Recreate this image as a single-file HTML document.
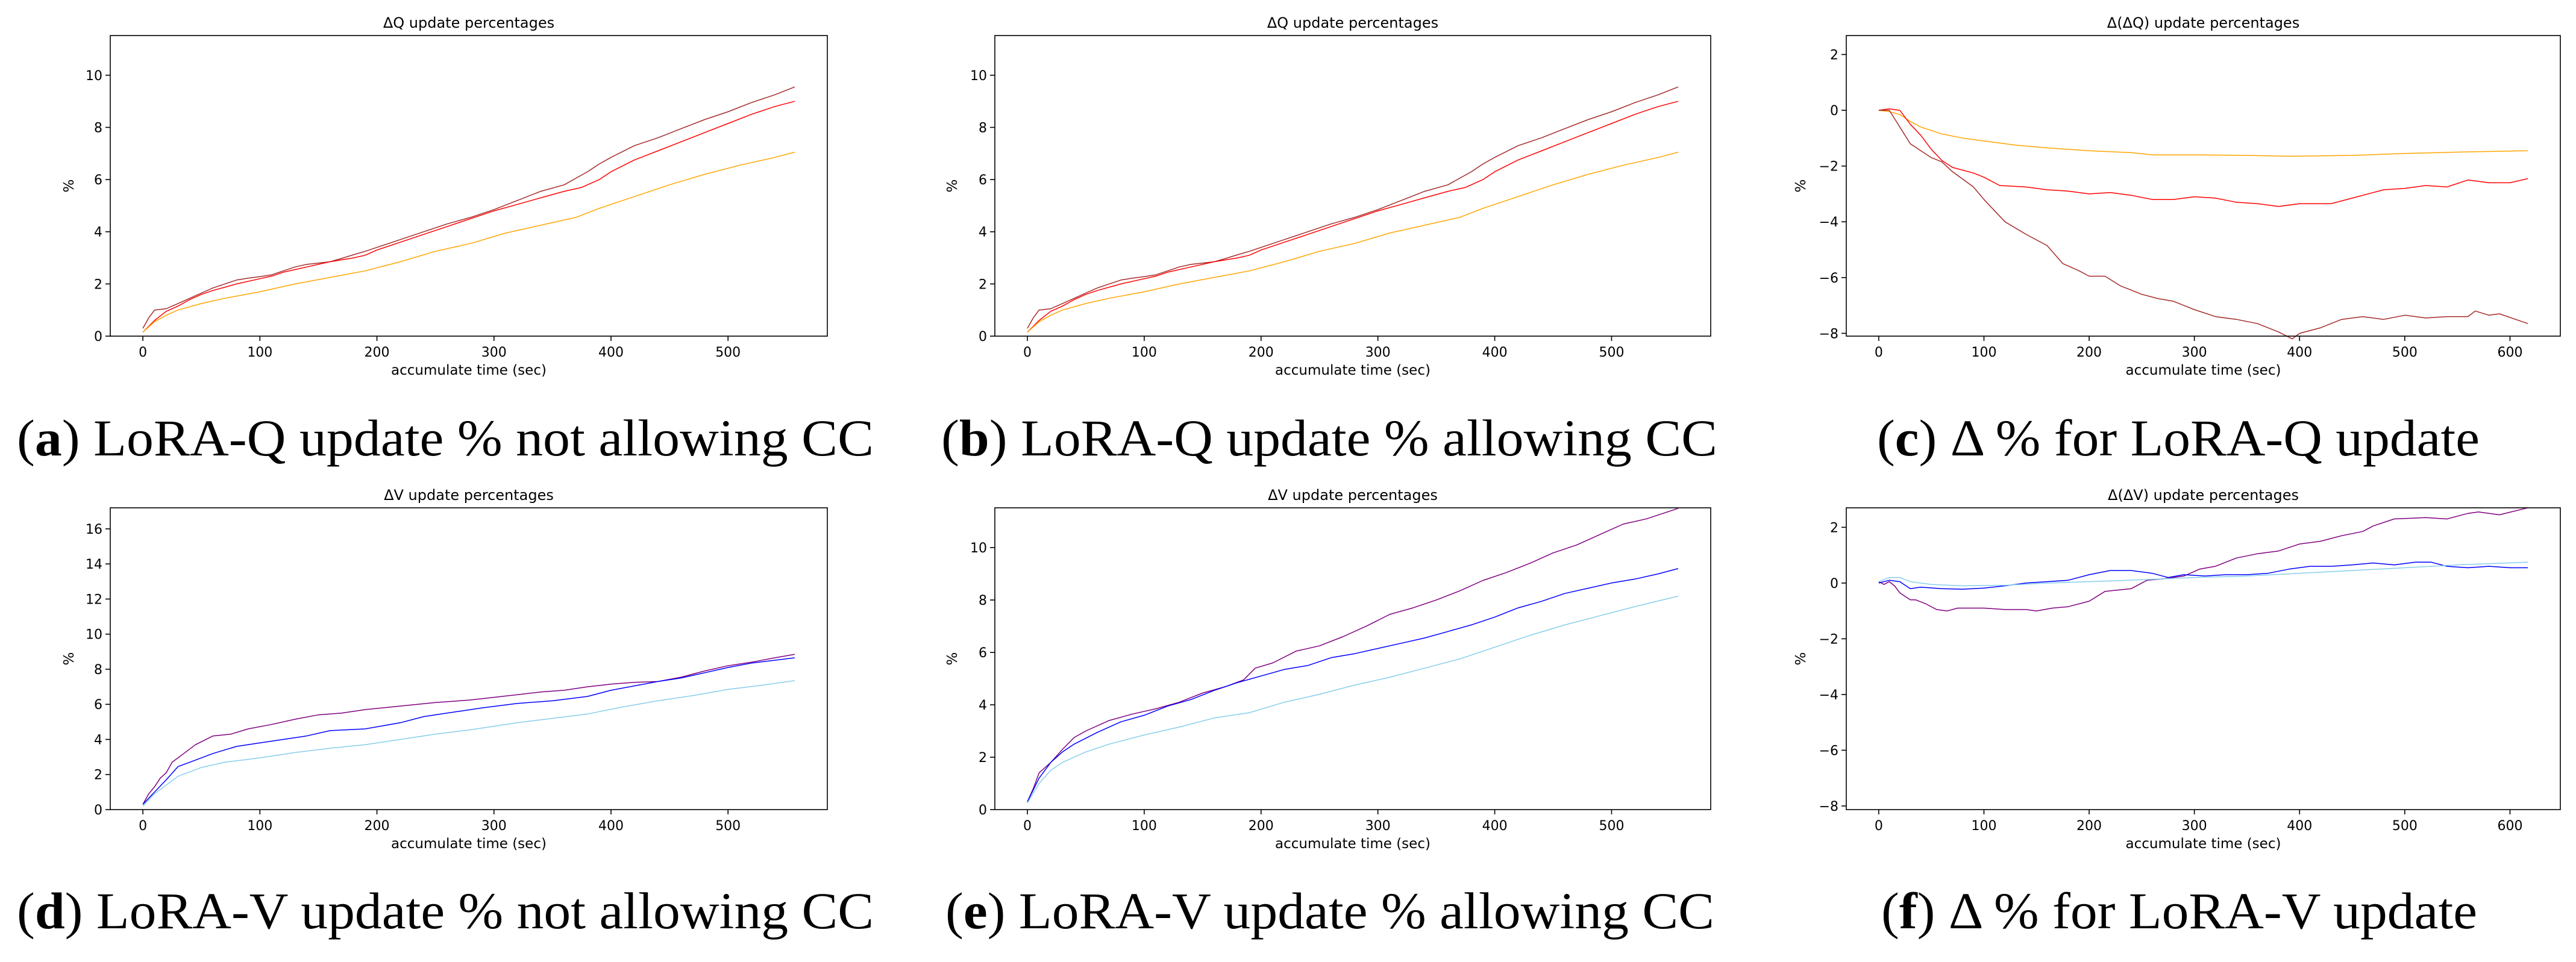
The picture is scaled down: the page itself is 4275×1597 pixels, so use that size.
<!DOCTYPE html>
<html><head><meta charset="utf-8"><style>
html,body{margin:0;padding:0;background:#fff;}
svg{display:block;}
text{font-family:"DejaVu Sans","Liberation Sans",sans-serif;fill:#000;}
.cap{font-family:"Liberation Serif",serif;}
</style></head><body>
<svg id="fig" width="4275" height="1597" viewBox="0 0 4275 1597" xmlns="http://www.w3.org/2000/svg"></svg>
<script>
// ---- data ----
const qBrownX=[0,5,10,20,30,40,50,60,70,80,90,100,110,120,130,140,150,160,170,180,190,200,220,240,260,280,300,320,340,360,370,380,390,400,420,440,460,480,500,520,540,557];
const qBrownY=[0.3,0.7,1.0,1.05,1.25,1.45,1.65,1.85,2.0,2.15,2.22,2.28,2.35,2.5,2.65,2.75,2.8,2.85,2.98,3.12,3.25,3.4,3.7,4.0,4.3,4.55,4.85,5.2,5.55,5.8,6.05,6.3,6.6,6.85,7.3,7.6,7.95,8.3,8.6,8.95,9.25,9.55];
const qRedX=[0,10,20,30,40,50,60,80,100,110,120,140,160,180,190,200,220,240,260,280,300,320,340,360,375,390,400,420,440,460,480,500,520,540,557];
const qRedY=[0.15,0.6,0.95,1.15,1.4,1.6,1.75,2.0,2.2,2.3,2.45,2.65,2.85,3.0,3.1,3.3,3.6,3.9,4.2,4.5,4.8,5.05,5.3,5.55,5.7,6.0,6.3,6.75,7.1,7.45,7.8,8.15,8.5,8.8,9.0];
const qOrangeX=[0,10,20,30,50,70,100,130,160,190,220,250,280,310,340,370,390,420,450,480,510,540,557];
const qOrangeY=[0.15,0.55,0.8,1.0,1.25,1.45,1.7,2.0,2.25,2.5,2.85,3.25,3.55,3.95,4.25,4.55,4.9,5.35,5.8,6.2,6.55,6.85,7.05];

const dqOrangeX=[0,10,20,30,40,60,80,100,130,160,200,240,260,300,350,390,450,500,550,617];
const dqOrangeY=[0,-0.05,-0.15,-0.4,-0.6,-0.85,-1.0,-1.1,-1.25,-1.35,-1.45,-1.52,-1.6,-1.6,-1.62,-1.65,-1.62,-1.55,-1.5,-1.45];
const dqRedX=[0,10,20,30,40,50,60,70,90,100,115,140,160,180,200,220,240,260,280,300,320,340,360,380,400,430,450,480,500,520,540,560,580,600,617];
const dqRedY=[0,0.05,0,-0.5,-0.9,-1.4,-1.8,-2.05,-2.25,-2.4,-2.7,-2.75,-2.85,-2.9,-3.0,-2.95,-3.05,-3.2,-3.2,-3.1,-3.15,-3.3,-3.35,-3.45,-3.35,-3.35,-3.15,-2.85,-2.8,-2.7,-2.75,-2.5,-2.6,-2.6,-2.45];
const dqBrownX=[0,10,15,20,30,40,50,60,70,90,100,110,120,140,160,175,190,200,215,230,250,265,280,300,320,340,360,380,393,400,420,440,460,480,500,520,540,560,567,580,590,617];
const dqBrownY=[0,0,-0.3,-0.6,-1.2,-1.45,-1.7,-1.85,-2.2,-2.75,-3.2,-3.6,-4.0,-4.45,-4.85,-5.5,-5.75,-5.95,-5.95,-6.3,-6.6,-6.75,-6.85,-7.15,-7.4,-7.5,-7.65,-7.95,-8.2,-8.0,-7.8,-7.5,-7.4,-7.5,-7.35,-7.45,-7.4,-7.4,-7.2,-7.35,-7.3,-7.65];

const vPurpleX=[0,5,10,15,20,25,35,45,60,75,90,110,130,150,170,190,220,250,280,300,320,340,360,380,400,420,440,460,480,500,520,540,557];
const vPurpleY=[0.3,0.9,1.3,1.8,2.1,2.7,3.2,3.7,4.2,4.3,4.6,4.85,5.15,5.4,5.5,5.7,5.9,6.1,6.25,6.4,6.55,6.7,6.8,7.0,7.15,7.25,7.3,7.55,7.9,8.2,8.4,8.65,8.85];
const vBlueX=[0,10,20,30,40,60,80,100,120,140,160,190,220,240,260,290,320,350,380,400,420,440,460,480,500,520,557];
const vBlueY=[0.3,1.0,1.7,2.45,2.7,3.2,3.6,3.8,4.0,4.2,4.5,4.6,4.95,5.3,5.5,5.8,6.05,6.2,6.45,6.8,7.05,7.3,7.5,7.8,8.1,8.35,8.65];
const vCyanX=[0,10,20,30,50,70,100,130,160,190,220,250,280,320,350,380,410,440,470,500,530,557];
const vCyanY=[0.2,0.9,1.4,1.9,2.4,2.7,2.95,3.25,3.5,3.7,4.0,4.3,4.55,4.95,5.2,5.45,5.85,6.2,6.5,6.85,7.1,7.35];

const vcPurpleX=[0,5,10,20,30,40,50,70,90,110,130,150,170,185,195,210,230,250,270,290,310,330,350,370,390,410,430,450,470,490,510,530,557];
const vcPurpleY=[0.3,0.8,1.4,1.8,2.3,2.75,3.0,3.4,3.65,3.85,4.1,4.45,4.7,4.95,5.4,5.6,6.05,6.25,6.6,7.0,7.45,7.7,8.0,8.35,8.75,9.05,9.4,9.8,10.1,10.5,10.9,11.1,11.5];
const vcBlueX=[0,10,20,30,40,60,80,100,120,140,160,180,200,220,240,260,280,300,320,340,360,380,400,420,440,460,480,500,520,540,557];
const vcBlueY=[0.3,1.2,1.8,2.2,2.5,2.95,3.35,3.6,3.95,4.2,4.55,4.85,5.1,5.35,5.5,5.8,5.95,6.15,6.35,6.55,6.8,7.05,7.35,7.7,7.95,8.25,8.45,8.65,8.8,9.0,9.2];
const vcCyanX=[0,10,20,30,50,70,100,130,160,190,220,250,280,310,340,370,400,430,460,490,520,557];
const vcCyanY=[0.25,1.0,1.5,1.8,2.2,2.5,2.85,3.15,3.5,3.7,4.1,4.4,4.75,5.05,5.4,5.75,6.2,6.65,7.05,7.4,7.75,8.15];

const dvPurpleX=[0,5,10,15,20,30,35,45,55,65,75,100,120,140,150,165,180,200,215,240,255,270,290,305,320,340,360,380,400,420,440,460,470,490,520,540,560,570,590,617];
const dvPurpleY=[0.05,-0.05,0.05,-0.1,-0.35,-0.6,-0.6,-0.75,-0.95,-1.0,-0.9,-0.9,-0.95,-0.95,-1.0,-0.9,-0.85,-0.65,-0.3,-0.2,0.1,0.15,0.25,0.5,0.6,0.9,1.05,1.15,1.4,1.5,1.7,1.85,2.05,2.3,2.35,2.3,2.5,2.55,2.45,2.7];
const dvBlueX=[0,10,20,30,40,60,80,100,120,140,160,180,200,220,240,260,275,290,310,330,350,370,390,410,430,450,470,490,510,525,540,560,580,600,617];
const dvBlueY=[0,0.1,0.05,-0.2,-0.15,-0.2,-0.22,-0.18,-0.1,0,0.05,0.1,0.3,0.45,0.45,0.35,0.2,0.3,0.25,0.3,0.3,0.35,0.5,0.6,0.6,0.65,0.72,0.65,0.75,0.75,0.6,0.55,0.6,0.55,0.55];
const dvCyanX=[0,10,20,30,50,80,120,160,200,250,300,350,400,450,500,550,617];
const dvCyanY=[0.05,0.2,0.2,0.05,-0.05,-0.1,-0.08,0,0.05,0.12,0.2,0.25,0.35,0.45,0.55,0.65,0.75];

const upTicksY=[0,2,4,6,8,10];
const vTicksY=[0,2,4,6,8,10,12,14,16];
const dTicksY=[-8,-6,-4,-2,0,2];
const ticksX5=[0,100,200,300,400,500];
const ticksX6=[0,100,200,300,400,500,600];

// ---- drawing ----
const NS="http://www.w3.org/2000/svg";
const svg=document.getElementById('fig');
function mk(tag,attrs,parent){const e=document.createElementNS(NS,tag);for(const k in attrs)e.setAttribute(k,attrs[k]);(parent||svg).appendChild(e);return e;}

function panel(o){
  const g=mk('g',{});
  
  
  const L=o.left,R=o.right,T=o.top,B=o.bottom;
  const sx=v=>L+(v-o.xmin)/(o.xmax-o.xmin)*(R-L);
  const sy=v=>B-(v-o.ymin)/(o.ymax-o.ymin)*(B-T);
  o.series.forEach(s=>{
    let d='';
    s.x.forEach((xv,i)=>{d+=(i?'L':'M')+sx(xv).toFixed(1)+','+sy(s.y[i]).toFixed(1);});
    const p=mk('path',{d:d,fill:'none',stroke:s.color,'stroke-width':1.5,'stroke-linejoin':'round'},g);
    
    
  });
  const fr=mk('rect',{x:L,y:T,width:R-L,height:B-T,fill:'none',stroke:'#000','stroke-width':1.6},g);
  
  
  o.xt.forEach(t=>{
    const x=sx(t);
    mk('line',{x1:x,x2:x,y1:B,y2:B+8,stroke:'#000','stroke-width':1.6},g);
    const tx=mk('text',{x:x,y:B+34,'font-size':22,'text-anchor':'middle'},g);
    tx.textContent=t;
    
    
  });
  o.yt.forEach(t=>{
    const y=sy(t);
    mk('line',{x1:L-8,x2:L,y1:y,y2:y,stroke:'#000','stroke-width':1.6},g);
    const tx=mk('text',{x:L-13,y:y+8,'font-size':22,'text-anchor':'end'},g);
    tx.textContent=(t<0?'\u2212'+(-t):t);
    
    
  });
  const cx=(L+R)/2;
  const ti=mk('text',{x:cx,y:T-13,'font-size':24,'text-anchor':'middle'},g);
  ti.textContent=o.title;
  
  
  const xl=mk('text',{x:cx,y:B+64,'font-size':23,'text-anchor':'middle'},g);
  xl.textContent='accumulate time (sec)';
  
  
  const yy=(T+B)/2;
  const yl=mk('text',{x:o.ylx,y:yy,'font-size':23,'text-anchor':'middle',transform:'rotate(-90 '+o.ylx+' '+yy+')'},g);
  yl.textContent='%';
  
  
  const cp=mk('text',{x:o.capx,y:o.capy,'font-size':86,'class':'cap',textLength:o.capw,lengthAdjust:'spacingAndGlyphs'},g);
  const b=mk('tspan',{'font-weight':'bold'},cp);
  cp.insertBefore(document.createTextNode('('),b);
  b.textContent=o.letter;
  cp.appendChild(document.createTextNode(') '+o.cap));
  
  
}
const cols=[{l:183,r:1373,ylx:122,capx:28,capw:1422},{l:1651,r:2839,ylx:1588,capx:1562,capw:1288},{l:3064,r:4249,ylx:2996,capx:3115,capw:1000}];
const rows=[{t:59,b:558,capy:756},{t:843,b:1344,capy:1541}];
const xr5={xmin:-27.85,xmax:584.85}, xr6={xmin:-30.85,xmax:647.85};
const specs=[
 {name:'panel-a',c:0,r:0,x:xr5,ymin:0,ymax:11.52,xt:ticksX5,yt:upTicksY,title:'\u0394Q update percentages',letter:'a',cap:'LoRA-Q update % not allowing CC',
  series:[{name:'line-brown',x:qBrownX,y:qBrownY,color:'#a52a2a'},{name:'line-red',x:qRedX,y:qRedY,color:'#ff0000'},{name:'line-orange',x:qOrangeX,y:qOrangeY,color:'#ffa500'}]},
 {name:'panel-b',c:1,r:0,x:xr5,ymin:0,ymax:11.52,xt:ticksX5,yt:upTicksY,title:'\u0394Q update percentages',letter:'b',cap:'LoRA-Q update % allowing CC',
  series:[{name:'line-brown',x:qBrownX,y:qBrownY,color:'#a52a2a'},{name:'line-red',x:qRedX,y:qRedY,color:'#ff0000'},{name:'line-orange',x:qOrangeX,y:qOrangeY,color:'#ffa500'}]},
 {name:'panel-c',c:2,r:0,x:xr6,ymin:-8.1,ymax:2.68,xt:ticksX6,yt:dTicksY,title:'\u0394(\u0394Q) update percentages',letter:'c',cap:'\u0394 % for LoRA-Q update',
  series:[{name:'line-orange',x:dqOrangeX,y:dqOrangeY,color:'#ffa500'},{name:'line-red',x:dqRedX,y:dqRedY,color:'#ff0000'},{name:'line-brown',x:dqBrownX,y:dqBrownY,color:'#a52a2a'}]},
 {name:'panel-d',c:0,r:1,x:xr5,ymin:0,ymax:17.2,xt:ticksX5,yt:vTicksY,title:'\u0394V update percentages',letter:'d',cap:'LoRA-V update % not allowing CC',
  series:[{name:'line-purple',x:vPurpleX,y:vPurpleY,color:'#800080'},{name:'line-blue',x:vBlueX,y:vBlueY,color:'#0000ff'},{name:'line-skyblue',x:vCyanX,y:vCyanY,color:'#87ceeb'}]},
 {name:'panel-e',c:1,r:1,x:xr5,ymin:0,ymax:11.52,xt:ticksX5,yt:upTicksY,title:'\u0394V update percentages',letter:'e',cap:'LoRA-V update % allowing CC',
  series:[{name:'line-purple',x:vcPurpleX,y:vcPurpleY,color:'#800080'},{name:'line-blue',x:vcBlueX,y:vcBlueY,color:'#0000ff'},{name:'line-skyblue',x:vcCyanX,y:vcCyanY,color:'#87ceeb'}]},
 {name:'panel-f',c:2,r:1,x:xr6,ymin:-8.13,ymax:2.7,xt:ticksX6,yt:dTicksY,title:'\u0394(\u0394V) update percentages',letter:'f',cap:'\u0394 % for LoRA-V update',
  series:[{name:'line-purple',x:dvPurpleX,y:dvPurpleY,color:'#800080'},{name:'line-blue',x:dvBlueX,y:dvBlueY,color:'#0000ff'},{name:'line-skyblue',x:dvCyanX,y:dvCyanY,color:'#87ceeb'}]}
];
specs.forEach(s=>{
  const c=cols[s.c],r=rows[s.r];
  let capx=c.capx,capw=c.capw;
  if(s.c===1&&s.r===1){capx=1569;capw=1276;}
  if(s.c===2&&s.r===1){capx=3122;capw=989;}
  panel({name:s.name,left:c.l,right:c.r,top:r.t,bottom:r.b,xmin:s.x.xmin,xmax:s.x.xmax,ymin:s.ymin,ymax:s.ymax,
    xt:s.xt,yt:s.yt,title:s.title,ylx:c.ylx,capx:capx,capw:capw,capy:r.capy,letter:s.letter,cap:s.cap,series:s.series});
});
</script>
</body></html>
